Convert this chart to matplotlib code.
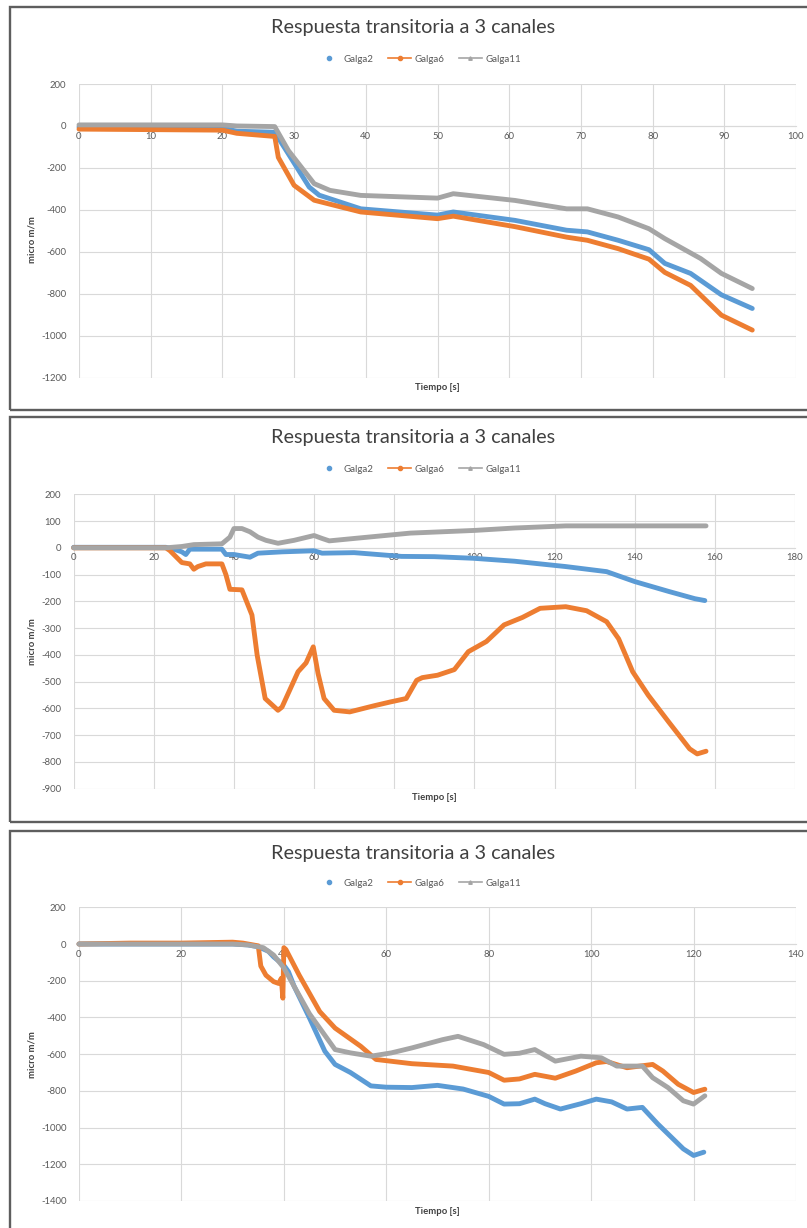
import matplotlib
matplotlib.use("Agg")
import matplotlib.pyplot as plt
from matplotlib.lines import Line2D
from matplotlib.patches import Rectangle

W, H = 807, 1228
DPI = 100

# ---------------- data ----------------
title = "Respuesta transitoria a 3 canales"
series_names = ["Galga2", "Galga6", "Galga11"]
xlabel = "Tiempo [s]"
ylabel = "micro m/m"

# Panel 1
p1_xticks = [0, 10, 20, 30, 40, 50, 60, 70, 80, 90, 100]
p1_yticks = [200, 0, -200, -400, -600, -800, -1000, -1200]
p1_t_g2 = [0, 20, 22, 27.3, 29.2, 32.1, 33.5, 39.3, 50, 52.2, 60.8, 68, 70.9, 75.2, 79.5, 81.7, 85.3, 89.6, 93.9]
p1_g2 = [-5, -10, -25, -30, -133, -291, -330, -395, -425, -410, -450, -497, -505, -545, -590, -655, -703, -805, -870]
p1_t_g6 = [0, 20, 22, 27.3, 27.8, 30, 32.8, 39.3, 50, 52.2, 60.8, 68, 70.9, 75.2, 79.5, 81.7, 85.3, 89.6, 93.9]
p1_g6 = [-15, -20, -35, -50, -150, -283, -354, -410, -442, -430, -480, -530, -545, -585, -635, -698, -760, -902, -973]
p1_t_g11 = [0, 20, 22, 27.3, 29.2, 32.8, 35, 39.3, 50, 52.2, 60.8, 68, 70.9, 75.2, 79.5, 81.7, 86.7, 89.6, 93.9]
p1_g11 = [5, 5, 0, -3, -117, -275, -307, -331, -344, -323, -355, -395, -395, -434, -490, -537, -632, -703, -775]

# Panel 2
p2_xticks = [0, 20, 40, 60, 80, 100, 120, 140, 160, 180]
p2_yticks = [200, 100, 0, -100, -200, -300, -400, -500, -600, -700, -800, -900]
p2_t_g2 = [0, 23, 25, 27, 28, 29, 37, 38, 40, 44, 46, 52, 60, 62, 70, 81.8, 90, 99.7, 110, 122.8, 133, 140, 148.5, 155, 157.5]
p2_g2 = [2, 2, -5, -15, -25, -5, -5, -25, -25, -35, -20, -15, -11, -20, -18, -32, -33, -39, -50, -70, -89, -126, -163, -190, -197]
p2_t_g6 = [0, 23, 24, 26, 27, 29, 30, 31, 33, 37, 38, 39, 42, 44.5, 45.8, 47.8, 51, 52, 56, 58, 59.8, 61, 62.5, 65, 68.9, 75,
           79, 83, 85.6, 87, 90.8, 95, 98.5, 103, 107.4, 112, 116.4, 122.8, 128, 133, 136, 139.5, 143.4, 148.5, 153.7, 155.6, 157.8]
p2_g6 = [0, 0, -10, -40, -55, -60, -80, -70, -60, -60, -100, -155, -157, -251, -401, -563, -607, -595, -463, -430, -370, -470, -563, -607, -613, -590,
         -576, -563, -495, -485, -476, -455, -388, -350, -288, -260, -226, -220, -235, -276, -340, -463, -551, -651, -751, -770, -760]
p2_t_g11 = [0, 23, 27, 30, 37, 39, 40, 42, 44, 46, 48, 51, 55, 60, 62, 63.8, 70, 84, 100, 110, 122.8, 140, 157.8]
p2_g11 = [0, 0, 5, 12, 15, 40, 72, 72, 60, 40, 28, 17, 28, 46, 35, 26, 35, 55, 65, 74, 82, 82, 82]

# Panel 3
p3_xticks = [0, 20, 40, 60, 80, 100, 120, 140]
p3_yticks = [200, 0, -200, -400, -600, -800, -1000, -1200, -1400]
p3_t_g2 = [0, 30, 33, 35, 37, 38, 40, 40.9, 42, 45, 48, 50, 53, 57, 60, 65, 70, 75, 80, 83, 86, 89, 91, 94, 98, 101, 104, 107, 110, 113, 118, 120, 122]
p3_g2 = [0, 0, -5, -15, -40, -70, -116, -151, -230, -403, -584, -656, -700, -773, -780, -782, -770, -790, -830, -872, -870, -845, -870, -899, -870, -845, -860, -899, -890, -980, -1116, -1152, -1134]
p3_t_g6 = [0, 10, 20, 30, 32, 35, 35.5, 36.5, 38, 39, 39.5, 39.8, 40, 40.4, 43, 47, 50, 55, 58, 65, 73, 80, 83, 86, 89, 93, 97,
           101, 103, 107, 112, 114, 117, 120, 122.2]
p3_g6 = [0, 5, 5, 10, 5, -10, -120, -170, -205, -215, -187, -295, -20, -30, -170, -368, -458, -557, -629, -652, -665, -700, -742, -735, -710, -731, -692,
         -647, -640, -674, -656, -692, -764, -809, -791]
p3_t_g11 = [0, 30, 33, 36, 38, 40, 42, 45, 47, 50, 53, 57, 61, 65, 71, 74, 79, 83, 86, 89, 93, 98, 102, 105, 110, 112, 115, 118, 120, 122.2]
p3_g11 = [0, 0, -5, -20, -60, -130, -230, -380, -458, -575, -593, -611, -593, -566, -521, -503, -548, -601, -595, -575, -638, -611, -620, -665, -665, -728, -782, -854, -872, -827]

panels = [
    dict(xt=p1_xticks, yt=p1_yticks,
         data=[(p1_t_g2, p1_g2), (p1_t_g6, p1_g6), (p1_t_g11, p1_g11)],
         ax=(79, 796, 84, 377.7), box=(10, 7, 410), title_y=28, leg_y=59, xl_y=387, yl_y=240),
    dict(xt=p2_xticks, yt=p2_yticks,
         data=[(p2_t_g2, p2_g2), (p2_t_g6, p2_g6), (p2_t_g11, p2_g11)],
         ax=(73.6, 795, 494.3, 788.7), box=(10, 417, 822), title_y=438, leg_y=469, xl_y=798, yl_y=642),
    dict(xt=p3_xticks, yt=p3_yticks,
         data=[(p3_t_g2, p3_g2), (p3_t_g6, p3_g6), (p3_t_g11, p3_g11)],
         ax=(79, 796, 907.3, 1201), box=(10, 831, 1240), title_y=853, leg_y=883, xl_y=1212, yl_y=1055),
]

colors = ["#5B9BD5", "#ED7D31", "#A5A5A5"]
text_col = "#595959"
grid_col = "#D9D9D9"
FONT = ["Lato", "DejaVu Sans"]
plt.rcParams["font.family"] = FONT
plt.rcParams["axes.unicode_minus"] = False

fig = plt.figure(figsize=(W / DPI, H / DPI), dpi=DPI)
fig.patch.set_facecolor("white")


def fx(x):
    return x / W


def fy(y):
    return 1 - y / H


for p in panels:
    l, r, t, b = p["ax"]
    bx, btop, bbot = p["box"]
    fig.patches.append(Rectangle((fx(bx), fy(bbot)), fx(W + 20 - bx), fy(btop) - fy(bbot),
                                 transform=fig.transFigure, fill=False,
                                 edgecolor="#5E5E5E", linewidth=1.7, zorder=0))
    ax = fig.add_axes([fx(l), fy(b), fx(r - l), fy(t) - fy(b)])
    ax.set_facecolor("none")
    xt, yt = p["xt"], p["yt"]
    ax.set_xlim(xt[0], xt[-1])
    ax.set_ylim(yt[-1], yt[0])
    ax.set_xticks(xt)
    ax.set_yticks(yt)
    ax.grid(True, color=grid_col, linewidth=0.8)
    ax.set_axisbelow(True)
    for s in ["top", "right", "left"]:
        ax.spines[s].set_visible(False)
    ax.spines["bottom"].set_position(("data", 0))
    ax.spines["bottom"].set_color(grid_col)
    ax.spines["bottom"].set_linewidth(0.8)
    ax.tick_params(axis="both", length=0, labelsize=6.8, labelcolor=text_col)
    ax.tick_params(axis="x", pad=4)
    ax.tick_params(axis="y", pad=9)
    for (tt, vv), c in zip(p["data"], colors):
        ax.plot(tt, vv, color=c, linewidth=3.5, solid_capstyle="round",
                solid_joinstyle="round", zorder=3, clip_on=False)
    fig.text(0.512, fy(p["title_y"]), title, ha="center", va="center",
             fontsize=14.3, color="#404040")
    fig.text(fx((l + r) / 2), fy(p["xl_y"]), xlabel, ha="center", va="center",
             fontsize=6.8, fontweight="bold", color="#404040")
    fig.text(fx(32), fy(p["yl_y"]), ylabel, ha="center", va="center", rotation=90,
             fontsize=6.8, fontweight="bold", color="#404040")
    handles = [
        Line2D([], [], color=colors[0], marker="o", linestyle="none", markersize=3),
        Line2D([], [], color=colors[1], marker="o", linestyle="-", linewidth=1.2, markersize=3),
        Line2D([], [], color=colors[2], marker="^", linestyle="-", linewidth=1.2, markersize=2.5),
    ]
    fig.legend(handles, series_names, loc="center", bbox_to_anchor=(fx(419), fy(p["leg_y"])),
               ncol=3, frameon=False, fontsize=7, handlelength=2.4, handletextpad=0.3,
               columnspacing=1.5, labelcolor=text_col)

fig.savefig("out.png", dpi=DPI, facecolor="white")
